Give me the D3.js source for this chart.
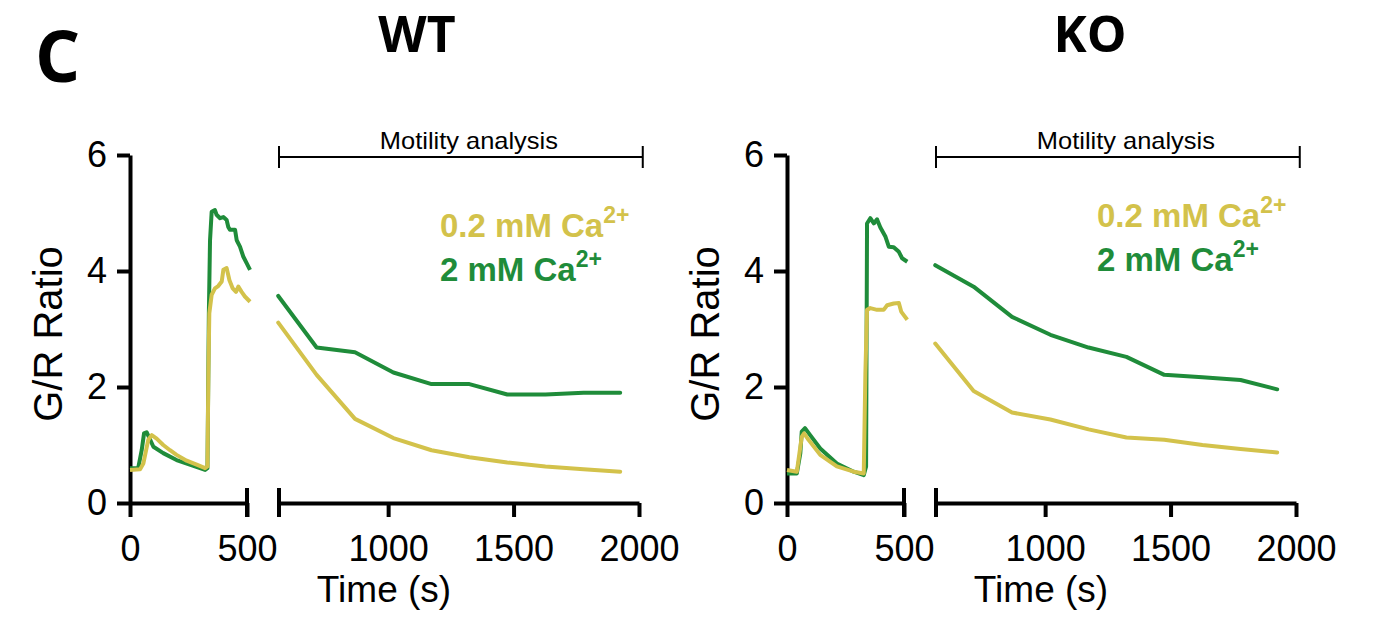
<!DOCTYPE html>
<html>
<head>
<meta charset="utf-8">
<script src="https://cdn.jsdelivr.net/npm/d3@7"></script>
<style>
  body { margin: 0; background: #fff; }
  text { font-family: "Liberation Sans", Arial, sans-serif; }
</style>
</head>
<body>
<div id="chart"></div>
<script>
// early recording (0-500 s), [time, ratio]
let wtLowEarly = [[0,0.57],[43,0.58],[57,0.68],[78,1.09],[93,1.17],[114,1.11],[142,1.0],[171,0.91],[199,0.83],[242,0.73],[285,0.66],[321,0.60],[331,0.63],[335,2.24],[339,3.27],[349,3.59],[363,3.70],[377,3.74],[392,3.82],[399,4.02],[413,4.05],[425,3.84],[439,3.70],[453,3.64],[463,3.73],[477,3.64],[491,3.56],[513,3.47]];
let wtHighEarly = [[0,0.60],[35,0.60],[50,0.91],[60,1.20],[71,1.22],[83,1.12],[100,0.97],[142,0.86],[199,0.74],[271,0.64],[321,0.57],[331,0.60],[337,3.27],[342,4.53],[349,5.02],[363,5.05],[370,4.97],[385,4.91],[399,4.93],[413,4.88],[420,4.76],[427,4.71],[449,4.71],[456,4.53],[470,4.42],[484,4.25],[499,4.13],[513,4.02]];
let koLowEarly = [[0,0.57],[42,0.54],[63,1.14],[73,1.20],[92,1.09],[142,0.83],[213,0.63],[285,0.54],[328,0.51],[335,2.24],[342,3.33],[356,3.36],[385,3.33],[413,3.33],[428,3.41],[456,3.44],[478,3.45],[488,3.30],[499,3.24],[514,3.16]];
let koHighEarly = [[0,0.51],[42,0.51],[57,0.86],[63,1.23],[77,1.29],[99,1.17],[142,0.94],[213,0.68],[285,0.54],[328,0.48],[338,0.63],[342,4.82],[356,4.91],[371,4.82],[385,4.89],[399,4.75],[421,4.59],[435,4.42],[456,4.41],[478,4.33],[492,4.22],[514,4.16]];

// motility analysis period
let lateTimes = [562, 715, 868, 1021, 1173, 1324, 1475, 1627, 1779, 1925];
let wtLowLate = [3.11, 2.21, 1.45, 1.12, 0.91, 0.79, 0.70, 0.63, 0.58, 0.54];
let wtHighLate = [3.57, 2.68, 2.60, 2.25, 2.05, 2.05, 1.87, 1.87, 1.90, 1.90];
let koLowLate = [2.75, 1.93, 1.56, 1.44, 1.27, 1.13, 1.09, 1.00, 0.93, 0.87];
let koHighLate = [4.10, 3.73, 3.21, 2.90, 2.68, 2.52, 2.21, 2.17, 2.12, 1.96];

let yTicks = [0, 2, 4, 6];
let earlyTicks = [0, 500];
let lateTicks = [1000, 1500, 2000];
let bracketRange = [565, 2015];
let legendLabels = ['0.2 mM Ca', '2 mM Ca'];

let width = 1381;
let height = 638;
let yellow = '#d3c24b';
let green = '#1f8c3a';

const svg = d3.select('#chart').append('svg')
  .attr('width', width)
  .attr('height', height);

svg.append('text')
  .attr('x', 35).attr('y', 82)
  .style('font-family', '"Open Sans", sans-serif')
  .attr('font-weight', 'bold')
  .attr('font-size', 71)
  .text('C');

let panel = function(ox, title, titleX, lowEarly, highEarly, lowLate, highLate, legendY) {
  const g = svg.append('g').attr('transform', `translate(${ox},0)`);

  let y = d3.scaleLinear().domain([0, 6]).range([503, 155]);
  let x1 = d3.scaleLinear().domain([0, 500]).range([130, 247]);
  let x2 = d3.scaleLinear().domain([565, 2000]).range([279, 639]);

  // y axis
  g.append('g')
    .attr('transform', 'translate(130,0)')
    .call(d3.axisLeft(y).tickValues(yTicks).tickSize(13).tickSizeOuter(0).tickPadding(10).tickFormat(d3.format('d')))
    .call(a => a.selectAll('path, line').attr('stroke-width', 4).attr('stroke', '#000'))
    .call(a => a.selectAll('text').attr('font-size', 36).attr('font-family', '"Liberation Sans", Arial').attr('fill', '#000'));

  // broken x axis
  let xa = (scale, ticks) => d3.axisBottom(scale).tickValues(ticks).tickSize(14).tickSizeOuter(0).tickPadding(18).tickFormat(d3.format('d'));
  [[x1, earlyTicks], [x2, lateTicks]].forEach(([s, t]) => {
    g.append('g')
      .attr('transform', 'translate(0,503)')
      .call(xa(s, t))
      .call(a => a.selectAll('path, line').attr('stroke-width', 4).attr('stroke', '#000'))
      .call(a => a.selectAll('text').attr('font-size', 36).attr('font-family', '"Liberation Sans", Arial').attr('fill', '#000'));
  });
  // break caps
  g.selectAll('.cap')
    .data([x1(500), x2(565)])
    .join('line')
    .attr('x1', d => d).attr('x2', d => d)
    .attr('y1', 488).attr('y2', 517)
    .attr('stroke', '#000').attr('stroke-width', 4);

  g.append('text')
    .attr('x', 384).attr('y', 602)
    .attr('text-anchor', 'middle')
    .attr('font-size', 37)
    .text('Time (s)');

  g.append('text')
    .attr('transform', 'translate(62,334) rotate(-90)')
    .attr('text-anchor', 'middle')
    .attr('font-size', 40)
    .text('G/R Ratio');

  g.append('text')
    .attr('x', titleX - ox).attr('y', 52)
    .attr('text-anchor', 'middle')
    .style('font-family', '"Open Sans", sans-serif')
    .attr('font-weight', 'bold')
    .attr('font-size', 50)
    .text(title);

  // motility bracket
  let bx = bracketRange.map(x2);
  g.append('path')
    .attr('d', `M${bx[0]},146V168M${bx[0]},157H${bx[1]}M${bx[1]},146V168`)
    .attr('fill', 'none').attr('stroke', '#000').attr('stroke-width', 2);
  g.append('text')
    .attr('x', (bx[0] + bx[1]) / 2 + 8).attr('y', 149)
    .attr('text-anchor', 'middle')
    .attr('font-size', 24)
    .attr('textLength', 178).attr('lengthAdjust', 'spacingAndGlyphs')
    .text('Motility analysis');

  let lineE = d3.line().x(d => x1(d[0])).y(d => y(d[1]));
  let lineL = d3.line().x((d, i) => x2(lateTimes[i])).y(d => y(d));

  [[highEarly, green], [lowEarly, yellow]].forEach(([d, c]) => {
    g.append('path').datum(d)
      .attr('fill', 'none').attr('stroke', c).attr('stroke-width', 4)
      .attr('stroke-linejoin', 'round').attr('d', lineE);
  });
  [[highLate, green], [lowLate, yellow]].forEach(([d, c]) => {
    g.append('path').datum(d)
      .attr('fill', 'none').attr('stroke', c).attr('stroke-width', 4)
      .attr('stroke-linejoin', 'round').attr('stroke-linecap', 'round').attr('d', lineL);
  });

  // legend
  [yellow, green].forEach((c, i) => {
    let t = g.append('text')
      .attr('x', 440).attr('y', legendY + i * 44)
      .attr('fill', c).attr('font-weight', 'bold').attr('font-size', 33);
    t.append('tspan').text(legendLabels[i]);
    t.append('tspan').attr('dy', -14).attr('font-size', 23).text('2+');
  });
};

panel(0, 'WT', 417, wtLowEarly, wtHighEarly, wtLowLate, wtHighLate, 237);
panel(657, 'KO', 1090, koLowEarly, koHighEarly, koLowLate, koHighLate, 227);
</script>
</body>
</html>
